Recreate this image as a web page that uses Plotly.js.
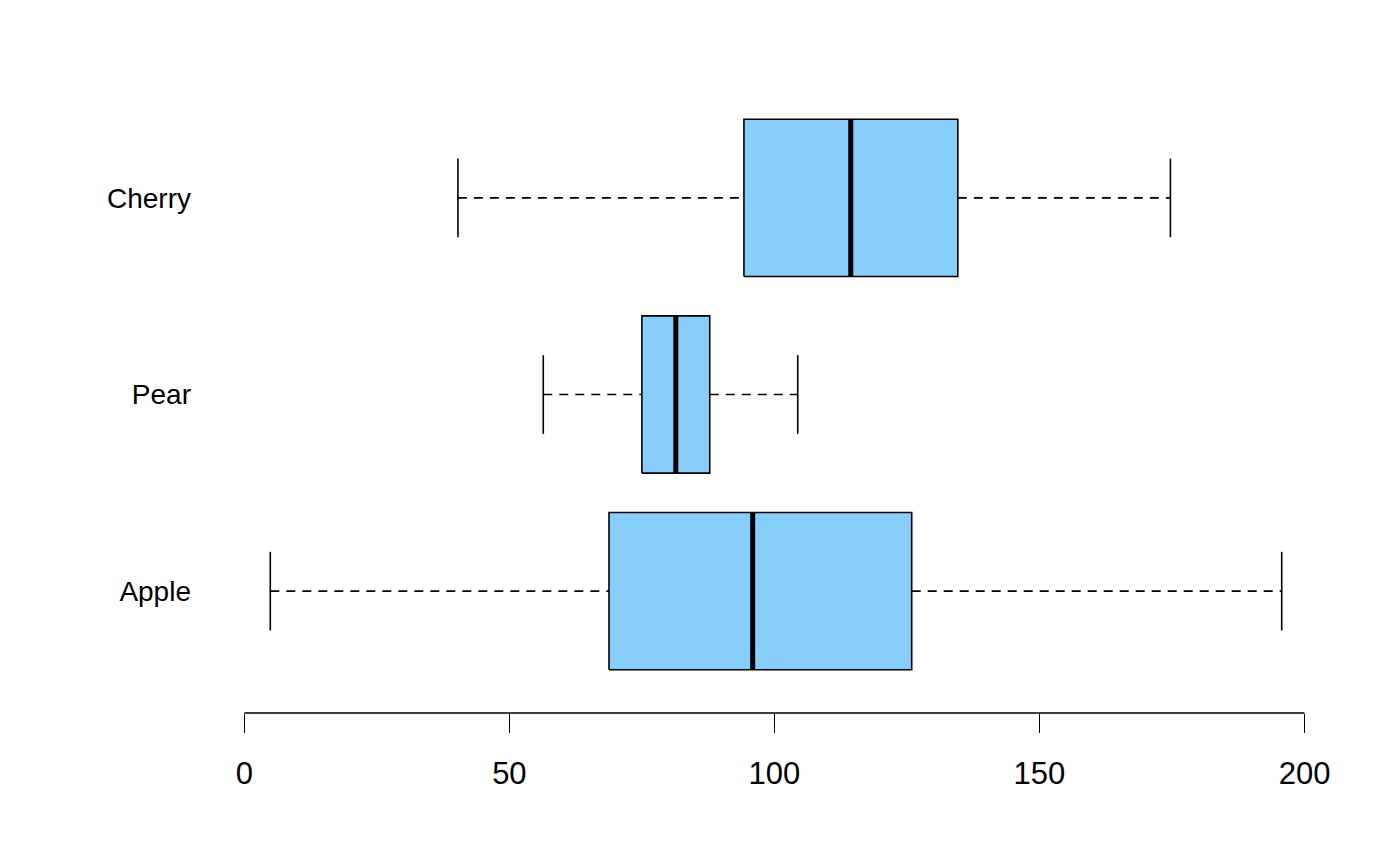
<!DOCTYPE html>
<html>
<head>
<meta charset="utf-8">
<script src="https://cdn.plot.ly/plotly-3.0.1.min.js"></script>
<style>html,body{margin:0;padding:0;background:#fff;}#chart{width:1400px;height:866px;}</style>
</head>
<body>
<div id="chart"></div>
<script>
const categories = ["Apple", "Pear", "Cherry"];
const lowerWhisker = [4.9, 56.4, 40.3];
const q1 = [68.8, 75.0, 94.25];
const median = [95.9, 81.4, 114.4];
const q3 = [125.9, 87.8, 134.6];
const upperWhisker = [195.7, 104.4, 174.7];
const xTicks = [0, 50, 100, 150, 200];

const boxHalf = 0.4, capHalf = 0.2;
const pos = categories.map((c, i) => i + 1);

const boxX = [], boxY = [], medX = [], medY = [], whX = [], whY = [], capX = [], capY = [];
pos.forEach((p, i) => {
  boxX.push(q1[i], q3[i], q3[i], q1[i], q1[i], null);
  boxY.push(p - boxHalf, p - boxHalf, p + boxHalf, p + boxHalf, p - boxHalf, null);
  medX.push(median[i], median[i], null);
  medY.push(p - boxHalf, p + boxHalf, null);
  whX.push(lowerWhisker[i], q1[i], null, q3[i], upperWhisker[i], null);
  whY.push(p, p, null, p, p, null);
  capX.push(lowerWhisker[i], lowerWhisker[i], null, upperWhisker[i], upperWhisker[i], null);
  capY.push(p - capHalf, p + capHalf, null, p - capHalf, p + capHalf, null);
});

const traces = [
  {x: whX, y: whY, type: 'scatter', mode: 'lines', line: {color: '#000', width: 1.6, dash: '9px,7px'}, hoverinfo: 'skip'},
  {x: capX, y: capY, type: 'scatter', mode: 'lines', line: {color: '#000', width: 1.6}, hoverinfo: 'skip'},
  {x: boxX, y: boxY, type: 'scatter', mode: 'lines', fill: 'toself', fillcolor: '#87CEFA', line: {color: '#000', width: 1.6}, hoverinfo: 'skip'},
  {x: medX, y: medY, type: 'scatter', mode: 'lines', line: {color: '#000', width: 5}, hoverinfo: 'skip'}
];

const layout = {
  width: 1400, height: 866,
  margin: {l: 230, r: 77.5, t: 76, b: 153},
  showlegend: false,
  paper_bgcolor: '#fff', plot_bgcolor: '#fff',
  font: {family: 'Liberation Sans, Arial, sans-serif', color: '#000'},
  xaxis: {
    range: [-2.7, 203.3], tickvals: xTicks, ticktext: xTicks.map(String),
    ticks: 'outside', ticklen: 19, tickwidth: 1.6, tickcolor: '#000',
    showline: false, showgrid: false, zeroline: false,
    tickfont: {size: 31}, ticklabelstandoff: 14
  },
  yaxis: {
    range: [0.38, 3.62], tickvals: pos, ticktext: categories,
    ticks: '', showline: false, showgrid: false, zeroline: false,
    tickfont: {size: 28}, ticklabelstandoff: 38
  },
  shapes: [
    {type: 'line', xref: 'x', yref: 'paper', x0: xTicks[0], x1: xTicks[xTicks.length - 1], y0: 0, y1: 0, line: {color: '#000', width: 1.6}}
  ]
};

Plotly.newPlot('chart', traces, layout, {displayModeBar: false, staticPlot: true});
</script>
</body>
</html>
